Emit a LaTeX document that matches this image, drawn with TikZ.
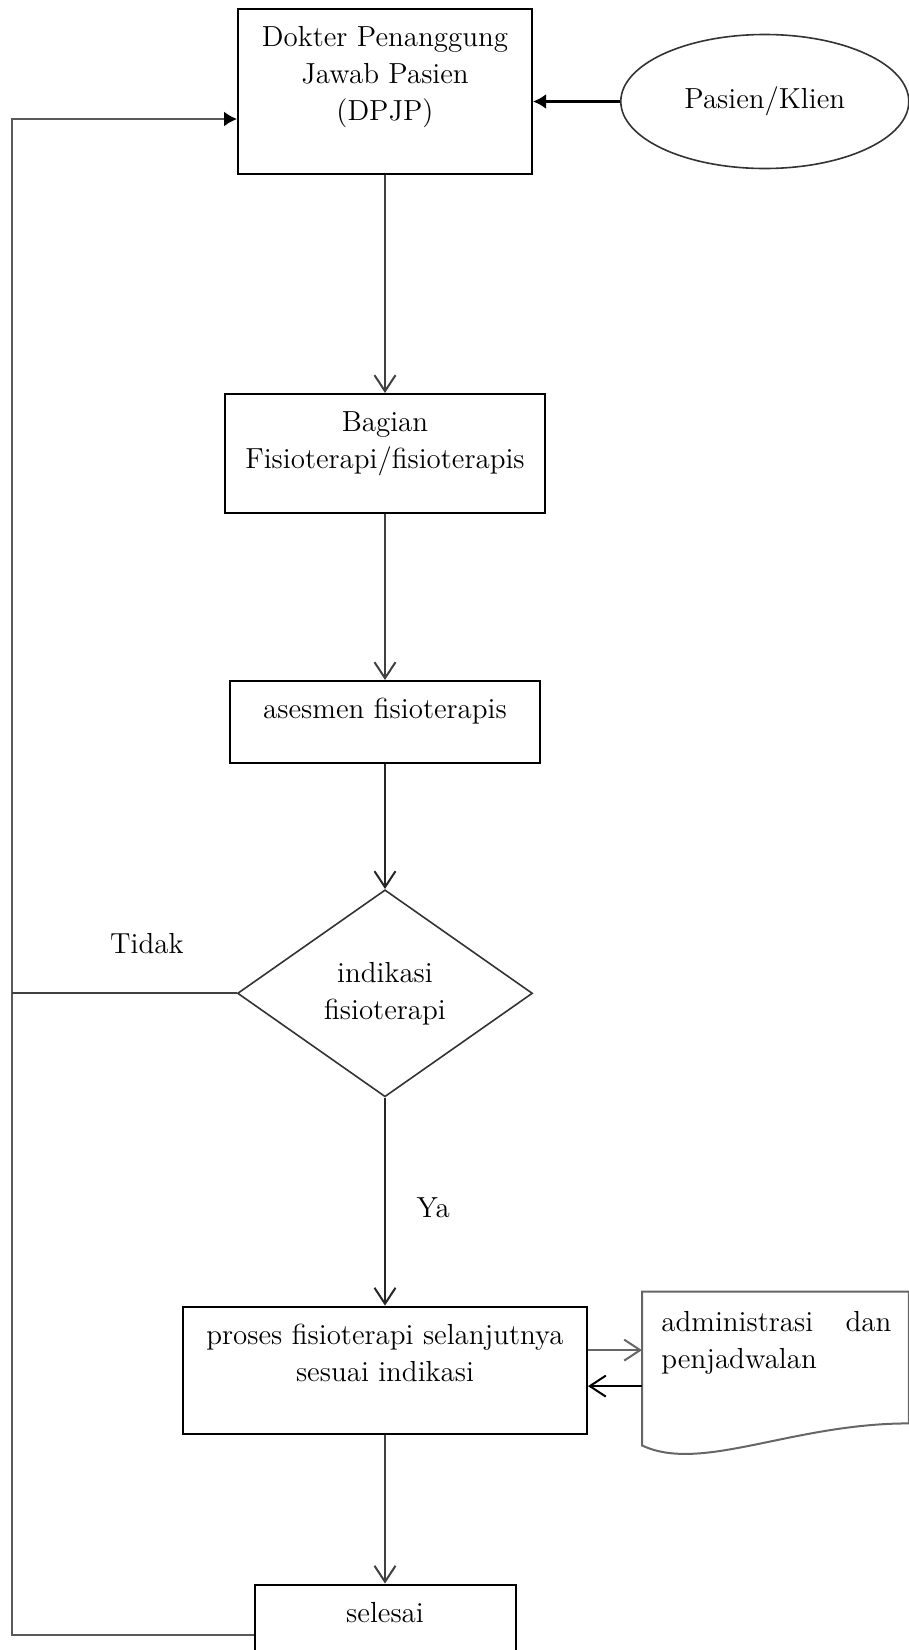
\documentclass[tikz,border=0pt]{standalone}
\usepackage{fontspec}
\usepackage{tikz}
\usetikzlibrary{shapes,arrows.meta,positioning,calc}
\tikzset{
  >={Straight Barb[length=8pt,width=10.5pt]},
  procbox/.style args={#1,#2}{
  draw=black,
  line width=1pt,
  minimum width=#1pt,
  minimum height=#2pt,
  anchor=north,
  },
  boxtext/.style={anchor=north,yshift=-9pt,align=center,inner sep=0pt},
  decision/.style={diamond,draw=black!80,line width=0.8pt,minimum width=147.5pt,
   minimum height=103.5pt,inner sep=0pt,align=center},
  client/.style={ellipse,draw=black!80,line width=0.8pt,minimum width=144pt,
   minimum height=67pt,inner sep=0pt},
  flow/.style={->,draw=black!75,line width=1pt},
  docline/.style={draw=black!60,line width=1pt},
  filled/.style={-{Latex[length=6.5pt,width=7.5pt,color=black]}}
}

\begin{document}
\begin{tikzpicture}[x=0.5pt,y=-0.5pt,font=\fontsize{14.5}{18.5}\selectfont]
  \useasboundingbox (0,0) rectangle (909,1650);

  % main column
  \node[procbox={147,82.5},label={[boxtext]north:Dokter Penanggung\\Jawab Pasien\\(DPJP)}] (dpjp) at (385,8) {};
  \node[client,right=43.5pt of dpjp,yshift=-5pt] (pasien) {Pasien/Klien};
  \node[procbox={160,59.5},below=109pt of dpjp,label={[boxtext]north:Bagian\\Fisioterapi/fisioterapis}] (bagian) {};
  \node[procbox={155,41},below=83pt of bagian,label={[boxtext]north:asesmen fisioterapis}] (asesmen) {};
  \node[decision,below=62.5pt of asesmen] (indikasi) {indikasi\\fisioterapi};
  \node[procbox={202,63.5},below=104pt of indikasi,label={[boxtext]north:proses fisioterapi selanjutnya\\sesuai indikasi}] (proses) {};
  \node[procbox={130.5,50},below=74.5pt of proses,label={[boxtext]north:selesai}] (selesai) {};

  % document shape
  \node[minimum width=133pt,minimum height=76.5pt,right=27pt of proses.north east,anchor=north west,yshift=7pt,
        label={[anchor=north west,xshift=9.5pt,yshift=-9.5pt,inner sep=0pt,text width=115pt,align=left]north west:administrasi\hfill dan\\penjadwalan}] (admin) {};
  \draw[docline] (admin.north west) -- (admin.north east) -- ([yshift=11pt]admin.south east)
    .. controls ([xshift=-58.5pt,yshift=11pt]admin.south east) and ([xshift=29.5pt,yshift=-14pt]admin.south west) .. (admin.south west) -- cycle;

  \draw[flow] (dpjp) -- (bagian);
  \draw[flow] (bagian) -- (asesmen);
  \draw[flow,draw=black!85] (asesmen) -- (indikasi);
  \draw[flow,draw=black!85] (indikasi) -- node[pos=0.53,right=12pt]{Ya} (proses);
  \draw[flow] (proses) -- (selesai);
  \draw[filled,line width=1.5pt] (pasien.west) -- (pasien.west -| dpjp.east);

  \path ([yshift=10pt]proses.east) coordinate (pa1);
  \path ([yshift=-8pt]proses.east) coordinate (pa2);
  \draw[flow,draw=black!60] (pa1) -- (pa1 -| admin.west);
  \draw[flow,draw=black] (pa2 -| admin.west) -- (pa2);

  % back to DPJP
  \coordinate (lx) at (12,119);
  \draw[filled,draw=black!65,line width=1pt] (selesai.west) -| (lx) -- (lx -| dpjp.west);
  \draw[draw=black!75,line width=1pt] (indikasi.west) -- node[pos=0.4,above=16pt]{Tidak} (indikasi.west -| lx);
\end{tikzpicture}
\end{document}
